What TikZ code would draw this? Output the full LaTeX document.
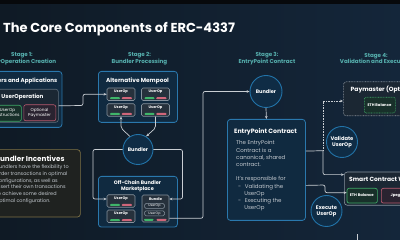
\documentclass[tikz,border=0pt]{standalone}
\usepackage{fontspec}
\setmainfont{Poppins}
\usetikzlibrary{arrows.meta}
\definecolor{bgL}{HTML}{0F1A25}
\definecolor{bgR}{HTML}{14263A}
\definecolor{topband}{HTML}{07090C}
\definecolor{stageC}{HTML}{56B0AE}
\definecolor{blueB}{HTML}{2A78AD}
\definecolor{blueF}{HTML}{102A40}
\definecolor{grayB}{HTML}{5F6C79}
\definecolor{grayF}{HTML}{1B2733}
\definecolor{cardB}{HTML}{86929D}
\definecolor{cardF}{HTML}{26313C}
\definecolor{pillG}{HTML}{3FB56A}
\definecolor{pillR}{HTML}{D0667A}
\definecolor{lineC}{HTML}{C9CED3}
\definecolor{circB}{HTML}{2273A8}
\definecolor{circF}{HTML}{0F2C45}
\definecolor{oliveB}{HTML}{7D7146}
\definecolor{oliveF}{HTML}{1F2220}
\definecolor{bodyC}{HTML}{C3C9CF}
\definecolor{greenB}{HTML}{3FA867}
\definecolor{greenF}{HTML}{18302A}
\definecolor{pinkB}{HTML}{B85A6E}
\definecolor{pinkF}{HTML}{2A2330}
\definecolor{dotB}{HTML}{8A939C}
\tikzset{
  conn/.style={draw=lineC, line width=0.7pt, rounded corners=2pt},
  arr/.style={-{Stealth[length=3pt,width=2.6pt]}},
  dotconn/.style={draw=lineC, line width=0.7pt, dash pattern=on 0.8pt off 0.8pt},
  bluebox/.style={draw=blueB, fill=blueF, line width=0.8pt, rounded corners=3pt, inner sep=0pt},
  graybox/.style={draw=grayB, fill=grayF, line width=0.6pt, rounded corners=2.5pt, inner sep=0pt},
  card/.style={draw=cardB, fill=cardF, line width=0.6pt, rounded corners=1.5pt, inner sep=0pt, minimum width=28pt, minimum height=12.5pt},
  circ/.style={circle, draw=circB, fill=circF, line width=0.9pt, inner sep=0pt, text=white, font=\bfseries\fontsize{5}{6}\selectfont, align=center},
  stagelbl/.style={text=stageC, font=\bfseries\fontsize{5.6}{6.8}\selectfont, align=center, inner sep=0pt},
  ttl/.style={text=white, font=\bfseries\fontsize{6}{7}\selectfont, inner sep=0pt},
  tinytxt/.style={text=white, font=\bfseries\fontsize{3.6}{4.4}\selectfont, inner sep=0pt, align=center},
  pilltag/.style={draw=cardB, line width=0.5pt, rounded corners=1.5pt, minimum width=20pt, minimum height=5pt, inner sep=0pt, text=white, font=\fontsize{3.3}{4}\selectfont},
  body/.style={text=bodyC, font=\fontsize{5.5}{7.2}\selectfont, inner sep=0pt, align=left},
}
\newcommand{\ucard}[3]{%
  \node[card] (#1) at (#2,#3) {};
  \node[tinytxt] (#1t) at (#2,#3-2.4) {UserOp};
  \fill[pillG, rounded corners=0.9pt] (#2-11,#3+3) rectangle (#2-1,#3+5);
  \fill[pillR, rounded corners=0.9pt] (#2+0.7,#3+3) rectangle (#2+11,#3+5);
}
\begin{document}
\begin{tikzpicture}[x=1pt,y=-1pt]
\useasboundingbox (0,0) rectangle (400,240);
\clip (0,0) rectangle (400,240);
\shade[left color=bgL, right color=bgR] (0,0) rectangle (400,240);
\fill[topband] (0,0) rectangle (400,4);

% title
\node[anchor=base west, inner sep=0pt, text=white, font=\bfseries\fontsize{13}{15}\selectfont] (title) at (3,32.3) {The Core Components of ERC-4337};

% stage labels
\node[stagelbl] (s1) at (22,58.5) {Stage 1:\\UserOperation Creation};
\node[stagelbl] (s2) at (139.5,58.5) {Stage 2:\\Bundler Processing};
\node[stagelbl] (s3) at (267,58.5) {Stage 3:\\EntryPoint Contract};
\node[stagelbl] (s4) at (376,58.5) {Stage 4:\\Validation and Execution};

% stage 1
\node[bluebox, anchor=north west, minimum width=81.5pt, minimum height=56pt] (users) at (-20,71) {};
\node[ttl, anchor=base east, font=\bfseries\fontsize{5.6}{7}\selectfont] (userst) at (57.5,82.6) {Users and Applications};
\node[graybox, anchor=north west, minimum width=78pt, minimum height=33pt] (uop) at (-20,89) {};
\node[ttl, font=\bfseries\fontsize{5.6}{7}\selectfont] (uopt) at (22.5,97.5) {UserOperation};
\node[draw=greenB, fill=greenF, line width=0.6pt, rounded corners=2pt, minimum width=28pt, minimum height=16pt, anchor=north west, inner sep=0pt] (instr) at (-7,105) {};
\node[tinytxt, font=\fontsize{4.2}{5}\selectfont] (instrt) at (7.5,113) {UserOp\\Instructions};
\node[draw=pinkB, fill=pinkF, line width=0.6pt, rounded corners=2pt, minimum width=32pt, minimum height=16pt, anchor=north west, inner sep=0pt] (opt) at (23.5,104.5) {};
\node[tinytxt, font=\fontsize{4.2}{5}\selectfont] (optt) at (39.5,112.5) {Optional\\Paymaster};

% stage 2 mempool
\node[bluebox, anchor=north west, minimum width=79pt, minimum height=51pt] (mem) at (98,71) {};
\node[ttl, font=\bfseries\fontsize{5.8}{7}\selectfont] (memt) at (137.5,80.5) {Alternative Mempool};
\ucard{m1}{121}{94.25}
\ucard{m2}{155.5}{94.25}
\ucard{m3}{121}{110}
\ucard{m4}{155.5}{110}

\draw[conn, arr] (uop.east) -- (83,105.5) -- (83,94.25) -- (m1.west);

% bundler 2
\node[circ, minimum size=30pt] (b2) at (138,149.5) {Bundler};
\draw[conn, arr] (b2.122) -- (121,128) -- (m3.south);
\draw[conn, arr] (m4.south) -- (155.5,128) -- (b2.58);

% marketplace
\node[bluebox, anchor=north west, minimum width=79pt, minimum height=50.7pt] (mk) at (98,176) {};
\node[ttl, font=\bfseries\fontsize{5}{6}\selectfont, align=center] (mkt) at (137.5,186) {Off-Chain Bundler\\Marketplace};
\ucard{k1}{121}{201}
\ucard{k2}{121}{216.25}
\node[card, minimum height=27pt, minimum width=27pt] (bd) at (155.5,208.5) {};
\node[tinytxt] (bdt) at (155.5,199.3) {Bundle};
\node[pilltag] (u1) at (154.5,206) {UserOp};
\node[pilltag] (u2) at (154.5,213.3) {UserOp};
\fill[pillG, rounded corners=0.9pt] (144,218.8) rectangle (153.5,220.8);
\fill[pillR, rounded corners=0.9pt] (156.5,218.8) rectangle (166.5,220.8);

\draw[conn, arr] (b2.west) -- (93,149.5) |- ([yshift=2pt]k1.west);
\draw[conn, arr] (b2.east) -- (182.5,149.5) |- ([yshift=9.5pt]bd.east);

% bundler incentives
\node[draw=oliveB, fill=oliveF, line width=0.7pt, rounded corners=3pt, anchor=north west, minimum width=90pt, minimum height=67.4pt, inner sep=0pt] (bi) at (-10,149.3) {};
\node[ttl, anchor=base west, font=\bfseries\fontsize{7.2}{8}\selectfont] (bit) at (-4.8,161.6) {Bundler Incentives};
\node[body, anchor=north west, font=\fontsize{4.9}{6.75}\selectfont] (bib) at (-4,164.8) {Bundlers have the flexibility to\\order transactions in optimal\\configurations, as well as\\insert their own transactions\\to achieve some desired\\optimal configuration.};

% stage 3
\node[circ, minimum size=32pt] (b3) at (266,91.5) {Bundler};
\draw[conn, arr] ([yshift=-9.8pt]bd.east) -- (203,218.3) |- (b3.west);
\node[bluebox, anchor=north west, minimum width=78pt, minimum height=101pt] (ep) at (227,119) {};
\draw[conn, arr] (b3.south) -- (ep.north);
\node[ttl, anchor=base west, font=\bfseries\fontsize{6.2}{7}\selectfont] (ept) at (234,133.2) {EntryPoint Contract};
\node[body, anchor=north west] (epb) at (236,140.5) {The EntryPoint\\Contract is a\\canonical, shared\\contract.\\[7.2pt]It’s responsible for\\\hspace*{2pt}-\hspace*{3.6pt}Validating the\\\hspace*{8.2pt}UserOp\\\hspace*{2pt}-\hspace*{3.6pt}Executing the\\\hspace*{8.2pt}UserOp};

% stage 4
\node[draw=dotB, fill=grayF, line width=0.6pt, dash pattern=on 0.8pt off 0.8pt, rounded corners=3pt, anchor=north west, minimum width=80pt, minimum height=34pt, inner sep=0pt] (pm) at (343,81.5) {};
\node[ttl, anchor=base west] (pmt) at (350.5,91.6) {Paymaster (Optional)};
\node[draw=greenB, fill=greenF, line width=0.6pt, dash pattern=on 0.8pt off 0.8pt, rounded corners=2pt, anchor=north west, minimum width=31pt, minimum height=15.7pt, inner sep=0pt] (pme) at (364,97) {};
\node[tinytxt, font=\bfseries\fontsize{3.8}{4.5}\selectfont] (pmet) at (379.5,104.85) {ETH Balance};

\node[draw=cardB, fill=grayF, line width=0.6pt, rounded corners=3pt, anchor=north west, minimum width=80pt, minimum height=33.3pt, inner sep=0pt] (sc) at (344,171.7) {};
\node[ttl, anchor=base west] (sct) at (349,181.6) {Smart Contract Wallet};
\node[draw=greenB, fill=greenF, line width=0.7pt, rounded corners=2pt, anchor=north west, minimum width=30.3pt, minimum height=14.7pt, inner sep=0pt] (eb) at (346.7,188) {};
\node[tinytxt, font=\bfseries\fontsize{3.8}{4.5}\selectfont] (ebt) at (361.85,195.35) {ETH Balance};
\node[draw=pinkB, fill=pinkF, line width=0.7pt, rounded corners=2pt, anchor=north west, minimum width=31pt, minimum height=14.7pt, inner sep=0pt] (jp) at (381,188) {};
\node[tinytxt, font=\bfseries\fontsize{3.8}{4.5}\selectfont] (jpt) at (396.5,195.35) {Jpegs};

\node[circ, minimum size=31pt, font=\bfseries\fontsize{5.2}{6.2}\selectfont] (vc) at (342,142) {Validate\\UserOp};
\node[circ, minimum size=31pt, font=\bfseries\fontsize{5.2}{6.2}\selectfont] (ec) at (326.5,211) {Execute\\UserOp};

\coordinate (jA) at (323,150.7);
\draw[conn] ([yshift=18.8pt]ep.east) -- (jA);
\draw[conn, arr] (jA) |- ([yshift=14pt]sc.west);
\draw[dotconn, arr] (jA) |- ([yshift=-2.2pt]pm.west);
\draw[conn, arr] ([yshift=-15.5pt]ep.east) -- (325,185) |- ([yshift=3pt]eb.west);

\coordinate (bt) at (357,234.5);
\coordinate (bb) at (357,242);
\draw[conn] (bt) -- (bb);
\end{tikzpicture}
\end{document}
